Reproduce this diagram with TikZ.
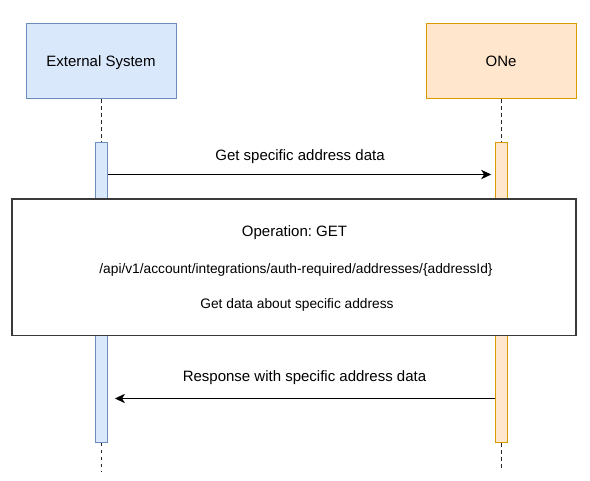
\documentclass[tikz,border=0pt]{standalone}
\usepackage{fontspec}
\setmainfont{Liberation Sans}
\usetikzlibrary{arrows.meta}
\frenchspacing
\definecolor{extfill}{HTML}{DAE8FC}
\definecolor{extline}{HTML}{6C8EBF}
\definecolor{onefill}{HTML}{FFE6CC}
\definecolor{oneline}{HTML}{D79B00}
\definecolor{boxline}{HTML}{3A3A3A}
\tikzset{
  headbox/.style={draw, line width=0.75pt, minimum width=112.5pt, minimum height=56.25pt, inner sep=0pt, text depth=0pt, font=\fontsize{11.25}{13}\selectfont},
  actbox/.style={draw, line width=0.75pt, minimum width=9pt, minimum height=225pt, inner sep=0pt},
  lifeline/.style={draw=black!85, line width=0.75pt, dash pattern=on 2.6pt off 2.6pt},
  msg/.style={draw=black, line width=0.75pt, -{Stealth[length=7.5pt, width=7pt, inset=2.2pt]}},
  msglabel/.style={font=\fontsize{11.25}{13}\selectfont, inner sep=0pt, yshift=-1.3pt},
  opbox/.style={draw=boxline, fill=white, line width=0.95pt, minimum width=423pt, minimum height=102.4pt, inner sep=0pt},
  optext/.style={inner sep=0pt, yshift=-1.2pt},
}
\begin{document}
\begin{tikzpicture}[x=0.75pt, y=-0.75pt]
\useasboundingbox (0,0) rectangle (590,481);
% heads
\node[headbox, fill=extfill, draw=extline] (ext) at (101,61.5) {External System};
\node[headbox, fill=onefill, draw=oneline] (one) at (501,61.5) {ONe};
% lifeline ends
\coordinate (extend) at (101,471);
\coordinate (oneend) at (501,471);
% activations
\node[actbox, fill=extfill, draw=extline] (extact) at (101,292.5) {};
\node[actbox, fill=onefill, draw=oneline] (oneact) at (501,293) {};
% lifelines
\draw[lifeline] (ext.south) -- (extact.north);
\draw[lifeline] (one.south) -- (oneact.north);
\draw[lifeline] (extact.south) -- (extend);
\draw[lifeline] (oneact.south) -- (oneend);
% message 1
\coordinate (m1a) at (extact.east |- 0,174.5);
\coordinate (m1b) at (oneact.west |- 0,174.5);
\draw[msg, shorten >=2.5pt] (m1a) -- (m1b);
\node[msglabel] (l1) at (300,155) {Get specific address data};
% operation box
\node[opbox] (op) at (294,267.2) {};
\node[optext, font=\fontsize{11.25}{13}\selectfont] (opt1) at (294.5,230.8) {Operation: GET};
\node[optext, font=\fontsize{10.3}{12}\selectfont] (opt2) at (296,268.3) {/api/v1/account/integrations/auth-required/addresses/\{addressId\}};
\node[optext, font=\fontsize{10.3}{12}\selectfont] (opt3) at (297,303.5) {Get data about specific address};
% message 2
\coordinate (m2a) at (oneact.west |- 0,398.5);
\coordinate (m2b) at (extact.east |- 0,398.5);
\draw[msg, shorten >=5.6pt] (m2a) -- (m2b);
\node[msglabel] (l2) at (304.5,376) {Response with specific address data};
\end{tikzpicture}
\end{document}
